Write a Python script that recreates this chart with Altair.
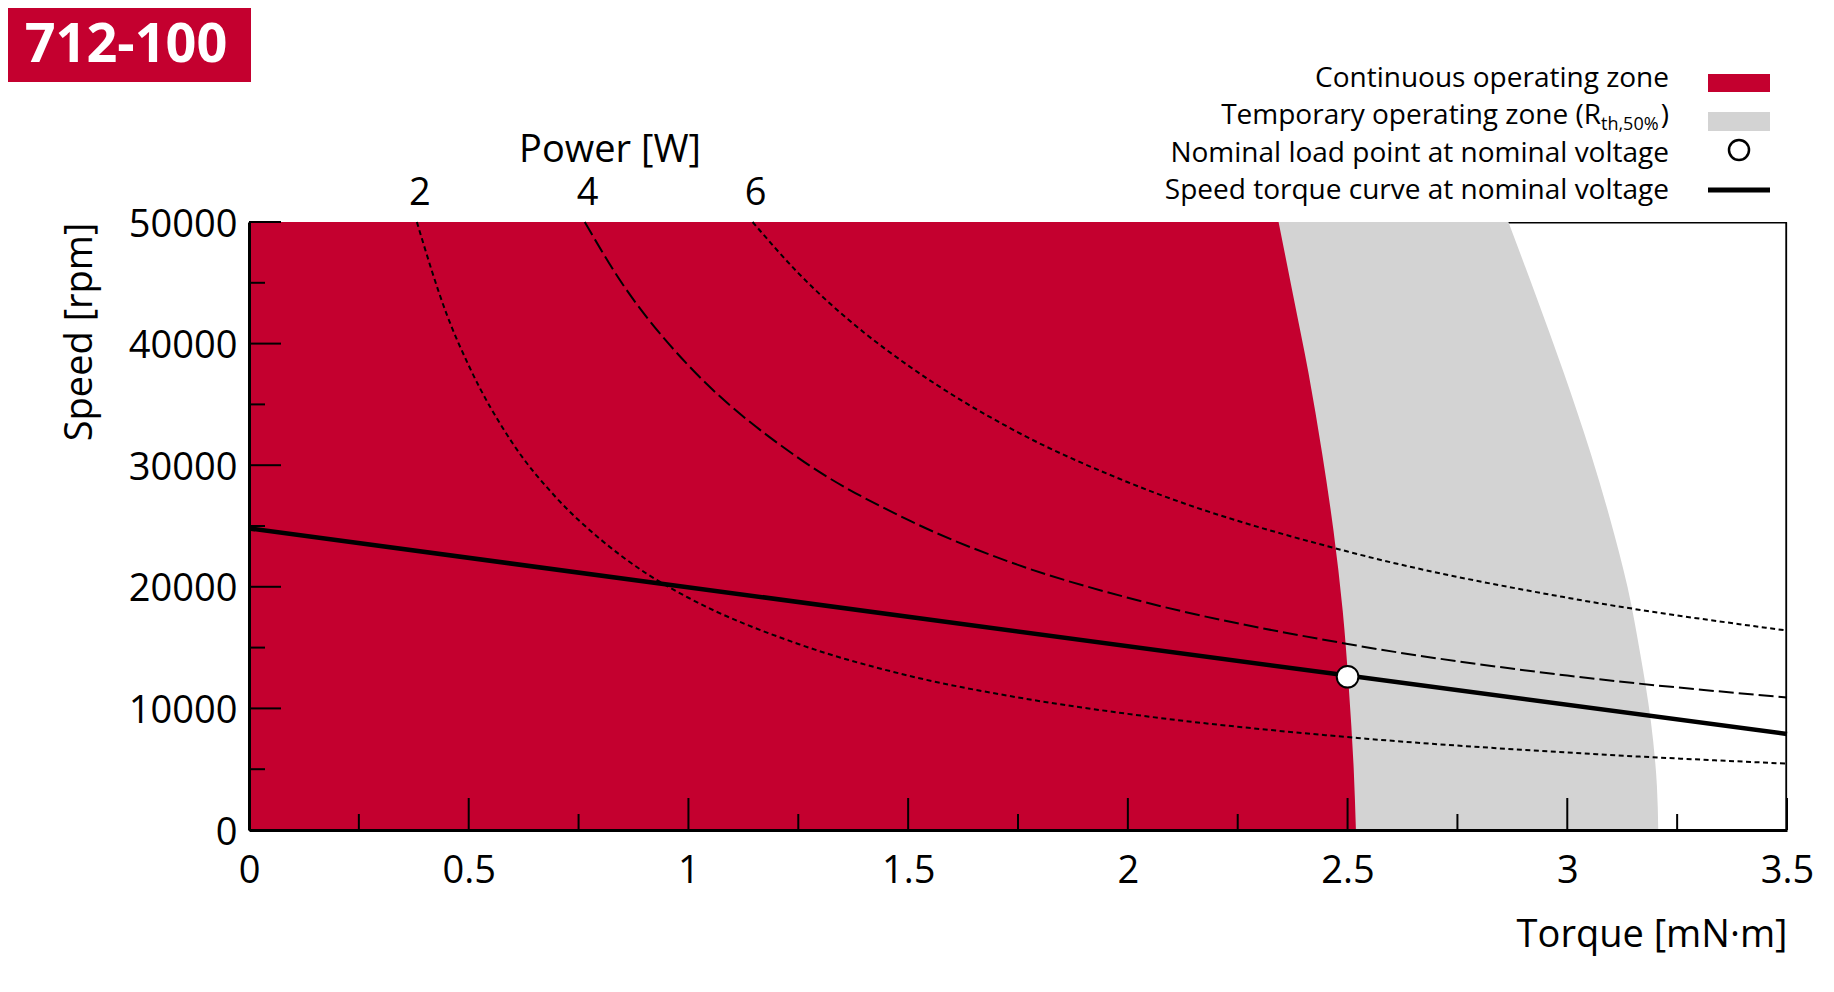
import altair as alt
import pandas as pd

# ---------------- data ----------------
# speed-torque curve at nominal voltage
st_torque = [0.0, 2.5, 3.5]
st_speed = [24800, 12700, 7900]

# nominal load point
nom_torque = [2.5]
nom_speed = [12600]

# continuous operating zone: torque limit at each speed
cont_speed = [0, 5000, 11600, 18000, 24600, 31000, 37600, 44000, 50000]
cont_torque = [2.519, 2.514, 2.503, 2.489, 2.468, 2.442, 2.411, 2.376, 2.343]

# temporary operating zone: torque limit at each speed
temp_speed = [0, 3600, 9000, 14500, 20000, 25500, 31000, 37600, 44100, 50000]
temp_torque = [3.207, 3.204, 3.190, 3.166, 3.137, 3.098, 3.053, 2.992, 2.927, 2.866]

# constant-power curves (2 W, 4 W, 6 W)
p2_torque = [0.382, 0.45, 0.5, 0.6, 0.7, 0.8, 0.9, 1.0, 1.25, 1.5, 1.75, 2.0, 2.5, 3.0, 3.5]
p2_speed = [50000, 42400, 38200, 31800, 27300, 23900, 21200, 19100, 15300, 12700, 10900, 9550, 7640, 6370, 5460]
p4_torque = [0.764, 0.85, 0.95, 1.0, 1.25, 1.5, 1.75, 2.0, 2.5, 3.0, 3.5]
p4_speed = [50000, 44900, 40200, 38200, 30600, 25500, 21800, 19100, 15300, 12700, 10900]
p6_torque = [1.146, 1.25, 1.4, 1.5, 1.75, 2.0, 2.5, 3.0, 3.5]
p6_speed = [50000, 45800, 40900, 38200, 32700, 28600, 22900, 19100, 16400]

# top "Power [W]" labels
power_labels = ["2", "4", "6"]
power_label_torque = [0.382, 0.764, 1.146]

# axis ticks
x_major = [0, 0.5, 1, 1.5, 2, 2.5, 3, 3.5]
x_minor = [0.25, 0.75, 1.25, 1.75, 2.25, 2.75, 3.25]
y_major = [0, 10000, 20000, 30000, 40000, 50000]
y_minor = [5000, 15000, 25000, 35000, 45000]

# ---------------- styling ----------------
RED = "#C4002F"
GRAY = "#D3D3D3"
W, H = 1538, 608
FONT = "Open Sans"

xs = alt.Scale(domain=[0, 3.5], nice=False, zero=False)
ys = alt.Scale(domain=[0, 50000], nice=False, zero=False)

one = pd.DataFrame({"d": [0]})

x_axis = alt.Axis(values=x_major, format="~g", title="Torque [mN·m]", ticks=False, tickSize=0,
                  grid=False, domainColor="black", domainWidth=3, labelFontSize=38,
                  labelColor="black", labelPadding=52, labelBaseline="alphabetic",
                  labelFlush=False, labelOverlap=False, labelFont=FONT,
                  titleFont=FONT, titleFontSize=38, titleFontWeight="normal", titleColor="black",
                  titleX=W, titleY=116, titleAlign="right", titleBaseline="alphabetic", zindex=1)
y_axis = alt.Axis(values=y_major, format="d", title="Speed [rpm]", ticks=False, tickSize=0,
                  grid=False, domainColor="black", domainWidth=3, labelFontSize=38,
                  labelColor="black", labelPadding=12, labelBaseline="middle", labelOffset=3,
                  labelFlush=False, labelOverlap=False, labelFont=FONT,
                  titleFont=FONT, titleFontSize=38, titleFontWeight="normal", titleColor="black",
                  titleX=-169, titleY=0, titleAngle=-90, titleAlign="right",
                  titleBaseline="middle", zindex=1)

# frame (top/right), drawn beneath the zones
top_border = alt.Chart(one).mark_rule(color="black", strokeWidth=1.5).encode(
    x=alt.value(0), x2=alt.value(W), y=alt.value(0.75))
right_border = alt.Chart(one).mark_rule(color="black", strokeWidth=1.7).encode(
    x=alt.value(W - 0.85), y=alt.value(0), y2=alt.value(H))

temp_df = pd.DataFrame({"speed": temp_speed, "torque": temp_torque})
temp_df["zero"] = 0.0
cont_df = pd.DataFrame({"speed": cont_speed, "torque": cont_torque})
cont_df["zero"] = 0.0

# the first data layer carries both axes
temp_area = alt.Chart(temp_df).mark_area(orient="horizontal", color=GRAY, opacity=1,
                                         interpolate="monotone").encode(
    y=alt.Y("speed:Q", scale=ys, axis=y_axis),
    x=alt.X("torque:Q", scale=xs, axis=x_axis),
    x2="zero:Q",
)
cont_area = alt.Chart(cont_df).mark_area(orient="horizontal", color=RED, opacity=1,
                                         interpolate="monotone").encode(
    y=alt.Y("speed:Q", scale=ys),
    x=alt.X("torque:Q", scale=xs),
    x2="zero:Q",
)


def power_line(tq, sp, dash):
    df = pd.DataFrame({"torque": tq, "speed": sp})
    return alt.Chart(df).mark_line(color="black", strokeWidth=2, strokeDash=dash,
                                   interpolate="monotone").encode(
        x=alt.X("torque:Q", scale=xs),
        y=alt.Y("speed:Q", scale=ys),
        order=alt.Order("torque:Q"),
    )


p2 = power_line(p2_torque, p2_speed, [5, 3.5])
p4 = power_line(p4_torque, p4_speed, [15, 5])
p6 = power_line(p6_torque, p6_speed, [5, 3.5])

st_df = pd.DataFrame({"torque": st_torque, "speed": st_speed})
st_line = alt.Chart(st_df).mark_line(color="black", strokeWidth=4.5).encode(
    x=alt.X("torque:Q", scale=xs),
    y=alt.Y("speed:Q", scale=ys),
)
nom_df = pd.DataFrame({"torque": nom_torque, "speed": nom_speed})
nom_pt = alt.Chart(nom_df).mark_point(shape="circle", filled=True, fill="white", stroke="black",
                                      strokeWidth=2, size=470, opacity=1).encode(
    x=alt.X("torque:Q", scale=xs),
    y=alt.Y("speed:Q", scale=ys),
)

# inward ticks
xmaj = alt.Chart(pd.DataFrame({"torque": x_major})).mark_rule(color="black", strokeWidth=2).encode(
    x=alt.X("torque:Q", scale=xs), y=alt.value(H), y2=alt.value(H - 32))
xmin = alt.Chart(pd.DataFrame({"torque": x_minor})).mark_rule(color="black", strokeWidth=2).encode(
    x=alt.X("torque:Q", scale=xs), y=alt.value(H), y2=alt.value(H - 16))
ymaj = alt.Chart(pd.DataFrame({"speed": y_major})).mark_rule(color="black", strokeWidth=2).encode(
    y=alt.Y("speed:Q", scale=ys), x=alt.value(0), x2=alt.value(32))
ymin = alt.Chart(pd.DataFrame({"speed": y_minor})).mark_rule(color="black", strokeWidth=2).encode(
    y=alt.Y("speed:Q", scale=ys), x=alt.value(0), x2=alt.value(16))

# top power labels
pl_df = pd.DataFrame({"torque": power_label_torque, "label": power_labels})
plabels = alt.Chart(pl_df).mark_text(fontSize=38, font=FONT, color="black", baseline="alphabetic",
                                     align="center", dx=3).encode(
    x=alt.X("torque:Q", scale=xs), y=alt.value(-17), text="label:N")
ptitle = alt.Chart(one).mark_text(text="Power [W]", fontSize=38, font=FONT, color="black",
                                  baseline="alphabetic", align="center").encode(
    x=alt.value(361), y=alt.value(-60))

# title badge
badge = alt.Chart(one).mark_rect(color=RED).encode(
    x=alt.value(-241), x2=alt.value(2), y=alt.value(-214), y2=alt.value(-140))
badge_txt = alt.Chart(one).mark_text(text="712-100", fontSize=54, fontWeight="bold", font=FONT,
                                     color="white", align="center", baseline="alphabetic").encode(
    x=alt.value(-123), y=alt.value(-160))

# legend
LX = 1420
def ltext(txt, y, x=LX, size=28, align="right"):
    return alt.Chart(one).mark_text(text=txt, fontSize=size, font=FONT, color="black",
                                    align=align, baseline="alphabetic").encode(
        x=alt.value(x), y=alt.value(y))

leg = [
    ltext("Continuous operating zone", -135),
    alt.Chart(one).mark_rect(color=RED).encode(x=alt.value(1459), x2=alt.value(1521),
                                               y=alt.value(-148), y2=alt.value(-130)),
    ltext("Temporary operating zone (R", -98, x=1352),
    ltext("th,50%", -92.5, x=1352, size=18, align="left"),
    ltext(")", -98),
    alt.Chart(one).mark_rect(color=GRAY).encode(x=alt.value(1459), x2=alt.value(1521),
                                                y=alt.value(-110), y2=alt.value(-91)),
    ltext("Nominal load point at nominal voltage", -60),
    alt.Chart(one).mark_point(shape="circle", filled=True, fill="white", stroke="black",
                              strokeWidth=2.5, size=400, opacity=1).encode(
        x=alt.value(1490), y=alt.value(-72)),
    ltext("Speed torque curve at nominal voltage", -23),
    alt.Chart(one).mark_rule(color="black", strokeWidth=5).encode(
        x=alt.value(1459), x2=alt.value(1521), y=alt.value(-32)),
]

chart = alt.layer(
    top_border, right_border, temp_area, cont_area, p2, p4, p6, st_line, nom_pt,
    xmaj, xmin, ymaj, ymin, plabels, ptitle, badge, badge_txt, *leg
).properties(
    width=W, height=H,
    autosize=alt.AutoSizeParams(type="none"),
    padding={"left": 241, "top": 214, "right": 30, "bottom": 140},
    background="white",
).configure_view(stroke=None).configure(font=FONT)

chart.save("out.html", embed_options={"renderer": "svg", "actions": False})
